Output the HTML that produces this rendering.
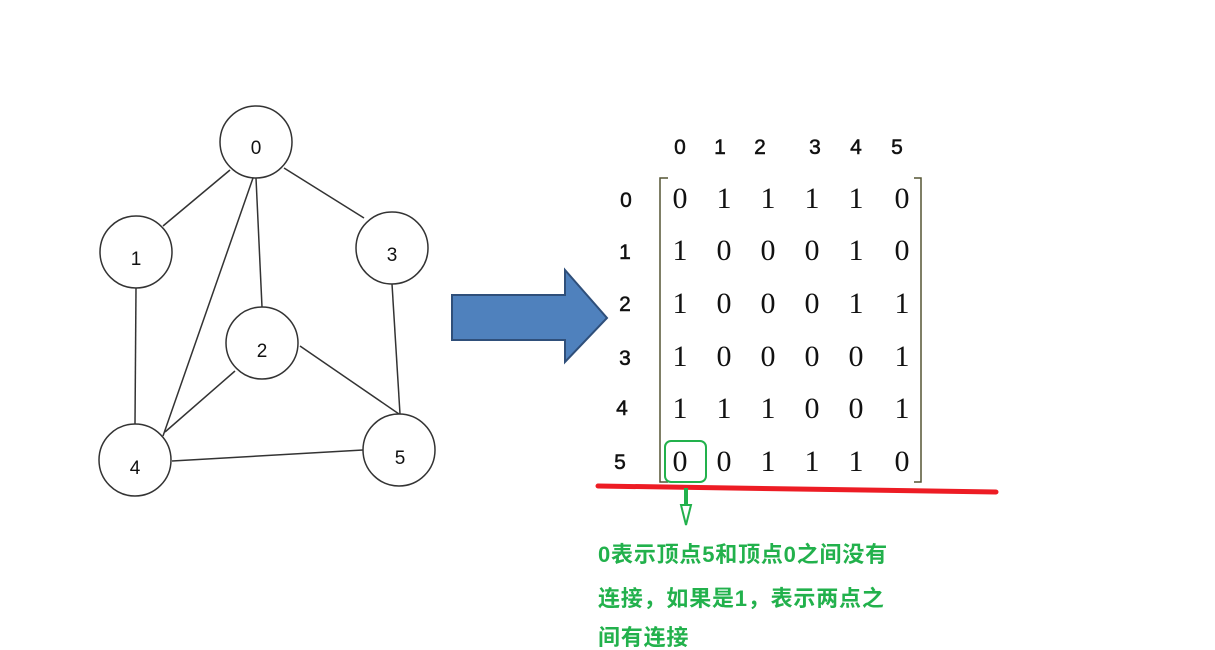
<!DOCTYPE html>
<html><head><meta charset="utf-8"><style>
body{margin:0;background:#fff;width:1215px;height:650px;overflow:hidden}
</style></head><body>
<svg width="1215" height="650" xmlns="http://www.w3.org/2000/svg" style="position:absolute;left:0;top:0">
<g stroke="#333" stroke-width="1.5" fill="none">
<line x1="230" y1="170" x2="163" y2="226"/>
<line x1="284" y1="168" x2="364" y2="218"/>
<line x1="256" y1="178" x2="262" y2="307"/>
<line x1="253" y1="178" x2="163" y2="436"/>
<line x1="136" y1="288" x2="135" y2="424"/>
<line x1="392" y1="284" x2="400" y2="414"/>
<line x1="235" y1="371" x2="165" y2="432"/>
<line x1="300" y1="346" x2="399" y2="414"/>
<line x1="172" y1="461" x2="363" y2="450"/>
<circle cx="256" cy="142" r="36"/>
<circle cx="136" cy="252" r="36"/>
<circle cx="392" cy="248" r="36"/>
<circle cx="262" cy="343" r="36"/>
<circle cx="135" cy="460" r="36"/>
<circle cx="399" cy="450" r="36"/>
</g>
<g font-family="Liberation Sans, sans-serif" font-size="19" text-anchor="middle" fill="#111">
<text x="256" y="154">0</text><text x="136" y="265">1</text><text x="392" y="261">3</text>
<text x="262" y="357">2</text><text x="135" y="474">4</text><text x="400" y="464">5</text>
</g>
<polygon points="452,295 565,295 565,270 607,318 565,362 565,340 452,340" fill="#4f81bd" stroke="#2f4f7a" stroke-width="2"/>
<g font-family="Liberation Sans, sans-serif" font-size="21" text-anchor="middle" fill="#111" stroke="#111" stroke-width="0.5">
<text x="680" y="154">0</text><text x="720" y="154">1</text><text x="760" y="154">2</text><text x="815" y="154">3</text><text x="856" y="154">4</text><text x="897" y="154">5</text>
<text x="626" y="207">0</text><text x="625" y="259">1</text><text x="625" y="311">2</text><text x="625" y="365">3</text><text x="622" y="415">4</text><text x="620" y="469">5</text>
</g>
<g stroke="#553" stroke-width="1.5" fill="none">
<polyline points="668,178 660,178 660,482 668,482"/>
<polyline points="914,178 921,178 921,482 914,482"/>
</g>
<g font-family="Liberation Serif, serif" font-size="30" text-anchor="middle" fill="#111">
<text x="680" y="208">0</text><text x="724" y="208">1</text><text x="768" y="208">1</text><text x="812" y="208">1</text><text x="856" y="208">1</text><text x="902" y="208">0</text>
<text x="680" y="260">1</text><text x="724" y="260">0</text><text x="768" y="260">0</text><text x="812" y="260">0</text><text x="856" y="260">1</text><text x="902" y="260">0</text>
<text x="680" y="313">1</text><text x="724" y="313">0</text><text x="768" y="313">0</text><text x="812" y="313">0</text><text x="856" y="313">1</text><text x="902" y="313">1</text>
<text x="680" y="366">1</text><text x="724" y="366">0</text><text x="768" y="366">0</text><text x="812" y="366">0</text><text x="856" y="366">0</text><text x="902" y="366">1</text>
<text x="680" y="418">1</text><text x="724" y="418">1</text><text x="768" y="418">1</text><text x="812" y="418">0</text><text x="856" y="418">0</text><text x="902" y="418">1</text>
<text x="680" y="471">0</text><text x="724" y="471">0</text><text x="768" y="471">1</text><text x="812" y="471">1</text><text x="856" y="471">1</text><text x="902" y="471">0</text>
</g>
<rect x="665" y="441" width="41" height="41" rx="6" fill="none" stroke="#22b14c" stroke-width="2"/>
<line x1="598" y1="486" x2="996" y2="492" stroke="#ed1c24" stroke-width="5" stroke-linecap="round"/>
<rect x="684" y="488" width="4" height="18" fill="#22b14c"/>
<polygon points="681,505 691,505 686,525" fill="none" stroke="#22b14c" stroke-width="2"/>
<g font-family="Liberation Sans, 'Noto Sans CJK SC', sans-serif" font-size="22" font-weight="bold" fill="#22b14c" letter-spacing="0.8">
<text x="598" y="562">0表示顶点5和顶点0之间没有</text>
<text x="598" y="606">连接，如果是1，表示两点之</text>
<text x="598" y="645">间有连接</text>
</g>
</svg>
</body></html>
